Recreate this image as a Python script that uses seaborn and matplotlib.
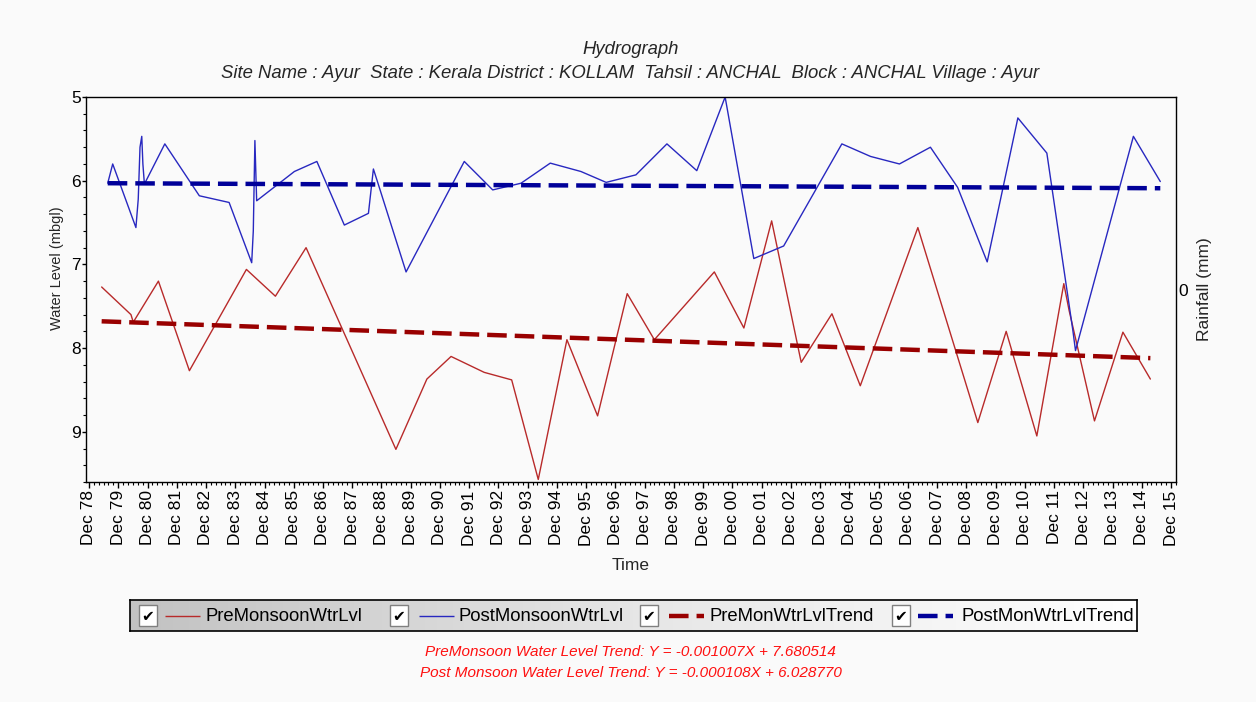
import numpy as np
import pandas as pd
import seaborn as sns
import matplotlib.pyplot as plt
import matplotlib.dates as mdates
from matplotlib.ticker import MultipleLocator
from matplotlib.colors import LinearSegmentedColormap
from matplotlib.patches import Rectangle

# pre-monsoon water level readings (mbgl)
pre_dates = ['1979-05-08', '1980-05-08', '1980-06-06', '1981-04-16', '1982-05-08',
             '1984-04-19', '1985-04-16', '1986-05-04', '1989-05-30', '1990-06-21',
             '1991-04-19', '1992-06-06', '1993-05-15', '1994-04-12', '1995-04-05',
             '1996-04-22', '1997-04-27', '1998-04-01', '2000-04-19', '2001-04-23',
             '2002-04-05', '2003-04-09', '2004-04-27', '2005-04-16', '2007-04-05',
             '2009-04-23', '2010-04-12', '2011-04-30', '2012-04-01', '2012-06-06',
             '2013-04-19', '2014-04-09', '2015-03-18']
pre_levels = [7.27, 7.60, 7.69, 7.20, 8.27,
              7.06, 7.38, 6.80, 9.21, 8.37,
              8.10, 8.29, 8.38, 9.57, 7.90,
              8.81, 7.35, 7.90, 7.09, 7.76,
              6.48, 8.17, 7.59, 8.45, 6.56,
              8.89, 7.80, 9.05, 7.23, 7.55,
              8.87, 7.81, 8.37]

# post-monsoon water level readings (mbgl)
post_dates = ['1979-07-23', '1979-09-23', '1980-07-09', '1980-08-07', '1980-08-29',
              '1980-09-20', '1980-10-04', '1980-10-23', '1981-07-05', '1982-09-09',
              '1983-09-16', '1984-06-24', '1984-07-14', '1984-08-03', '1984-08-25',
              '1985-12-09', '1986-09-16', '1987-08-25', '1988-06-21', '1988-08-22',
              '1988-10-08', '1989-10-04', '1991-10-01', '1992-09-20', '1993-09-09',
              '1994-09-09', '1995-09-27', '1996-08-07', '1997-08-14', '1998-09-05',
              '1999-09-13', '2000-09-01', '2001-08-25', '2002-09-02', '2004-08-29',
              '2005-08-22', '2006-08-18', '2007-09-09', '2008-08-14', '2009-08-18',
              '2010-09-05', '2011-09-02', '2012-07-23', '2012-08-25', '2014-08-18',
              '2015-07-20']
post_levels = [6.03, 5.80, 6.56, 6.22, 5.60,
               5.47, 5.80, 6.04, 5.56, 6.18,
               6.26, 6.98, 6.60, 5.52, 6.24,
               5.89, 5.77, 6.53, 6.39, 5.86,
               6.00, 7.09, 5.77, 6.11, 6.03,
               5.79, 5.89, 6.02, 5.93, 5.56,
               5.88, 5.00, 6.93, 6.78, 5.56,
               5.71, 5.80, 5.60, 6.08, 6.97,
               5.25, 5.67, 7.79, 8.03, 5.47,
               6.01]

# trend line values at first / last reading
pre_trend = [7.68, 8.12]
post_trend = [6.03, 6.09]

legend_labels = ['PreMonsoonWtrLvl', 'PostMonsoonWtrLvl', 'PreMonWtrLvlTrend', 'PostMonWtrLvlTrend']
trend_text = ['PreMonsoon Water Level Trend: Y = -0.001007X + 7.680514',
              'Post Monsoon Water Level Trend: Y = -0.000108X + 6.028770']

pre_df = pd.DataFrame({'date': pd.to_datetime(pre_dates), 'level': pre_levels})
post_df = pd.DataFrame({'date': pd.to_datetime(post_dates), 'level': post_levels})
pre_tr = pd.DataFrame({'date': pre_df['date'].iloc[[0, -1]].values, 'level': pre_trend})
post_tr = pd.DataFrame({'date': post_df['date'].iloc[[0, -1]].values, 'level': post_trend})

sns.set_theme(style='ticks')
plt.rcParams['font.family'] = ['Liberation Sans', 'DejaVu Sans']
plt.rcParams['axes.facecolor'] = '#fafafa'

c_pre, c_post = '#b82a2a', '#2828c0'
c_pre_tr, c_post_tr = '#990000', '#000099'
dash = (0, (4.4, 1.8))

fig = plt.figure(figsize=(12.56, 7.02), dpi=100, facecolor='#fafafa')
ax = fig.add_axes([0.0685, 0.3134, 0.8678, 0.5484])

sns.lineplot(data=pre_df, x='date', y='level', color=c_pre, lw=1, ax=ax)
sns.lineplot(data=post_df, x='date', y='level', color=c_post, lw=1, ax=ax)
sns.lineplot(data=pre_tr, x='date', y='level', color=c_pre_tr, lw=3.2, ls=dash, ax=ax)
sns.lineplot(data=post_tr, x='date', y='level', color=c_post_tr, lw=3.2, ls=dash, ax=ax)

ax.set_ylim(9.6, 5)
ax.set_yticks([5, 6, 7, 8, 9])
ax.yaxis.set_minor_locator(MultipleLocator(0.2))
ax.set_xlim(pd.Timestamp('1978-10-25'), pd.Timestamp('2016-02-01'))
ax.xaxis.set_major_locator(mdates.MonthLocator(bymonth=12, bymonthday=1))
ax.xaxis.set_minor_locator(mdates.MonthLocator(bymonth=[2, 4, 6, 8, 10]))
ax.xaxis.set_major_formatter(mdates.DateFormatter('%b %y'))
ax.tick_params(axis='both', which='major', width=1, colors='black', labelsize=12.5)
ax.tick_params(axis='x', which='major', length=4, labelrotation=90, pad=2)
ax.tick_params(axis='y', which='major', length=3, pad=0.5)
ax.tick_params(axis='both', which='minor', length=2.2, width=0.8, colors='black')
ax.set_xlabel('')
ax.set_ylabel('')
for s in ax.spines.values():
    s.set_color('black')
    s.set_linewidth(1)

ax2 = ax.twinx()
ax2.set_ylim(-1, 1)
ax2.set_yticks([0])
ax2.tick_params(axis='y', length=0, labelsize=12.5, pad=1.5, colors='black')
for s in ax2.spines.values():
    s.set_visible(False)

fig.text(0.502, 0.930, 'Hydrograph', ha='center', va='center', style='italic', fontsize=13.3)
fig.text(0.502, 0.896,
         'Site Name : Ayur  State : Kerala District : KOLLAM  Tahsil : ANCHAL  Block : ANCHAL Village : Ayur',
         ha='center', va='center', style='italic', fontsize=13.3)
fig.text(0.0454, 0.618, 'Water Level (mbgl)', rotation=90, ha='center', va='center', fontsize=10.5)
fig.text(0.959, 0.588, 'Rainfall (mm)', rotation=90, ha='center', va='center', fontsize=12.5)
fig.text(0.502, 0.194, 'Time', ha='center', va='center', fontsize=12.5)

# legend strip with check boxes
lax = fig.add_axes([0.1035, 0.1011, 0.8017, 0.0442])
lax.set_xlim(130, 1137)
lax.set_ylim(0, 1)
grad = LinearSegmentedColormap.from_list('g', ['#c2c2c2', '#e6e6e6', '#ffffff'])
lax.imshow(np.linspace(0, 1, 256)[None, :], cmap=grad, aspect='auto', extent=(130, 1137, 0, 1))
lax.set_xticks([])
lax.set_yticks([])
for s in lax.spines.values():
    s.set_color('black')
    s.set_linewidth(1.2)

box_x = [139, 390, 640, 892]
line_x = [165, 419, 669, 918]
text_x = [206, 459, 710, 962]
styles = [(c_pre, 1, '-'), (c_post, 1, '-'), (c_pre_tr, 3.2, dash), (c_post_tr, 3.2, dash)]
for bx, lx, tx, lab, (col, lw, ls) in zip(box_x, line_x, text_x, legend_labels, styles):
    lax.add_patch(Rectangle((bx, 0.16), 18, 0.68, facecolor='white', edgecolor='#808080', lw=1))
    lax.text(bx + 9, 0.48, '\u2714', ha='center', va='center', fontsize=11, color='black',
             family=['DejaVu Sans'])
    lax.plot([lx, lx + 35], [0.5, 0.5], color=col, lw=lw, ls=ls, solid_capstyle='butt')
    lax.text(tx, 0.48, lab, ha='left', va='center', fontsize=13.3, color='black')

fig.text(0.502, 0.0712, trend_text[0], ha='center', va='center', style='italic', fontsize=11, color='#ff1010')
fig.text(0.502, 0.0413, trend_text[1], ha='center', va='center', style='italic', fontsize=11, color='#ff1010')

fig.savefig('out.png', dpi=100, facecolor=fig.get_facecolor())
